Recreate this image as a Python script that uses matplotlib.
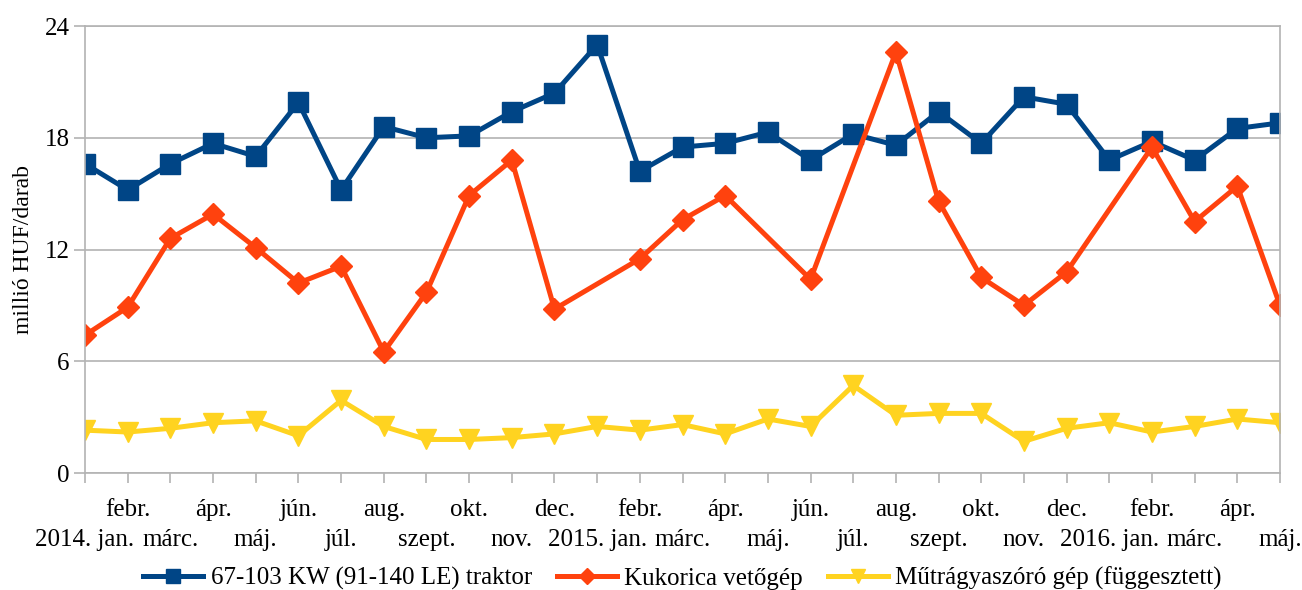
import numpy as np
import matplotlib
matplotlib.use('Agg')
import matplotlib.pyplot as plt
from matplotlib.ticker import FixedLocator, FixedFormatter

plt.rcParams['font.family'] = ['Liberation Serif', 'DejaVu Serif']

# months 2014. jan. .. 2016. máj.
months = ['2014. jan.', 'febr.', 'márc.', 'ápr.', 'máj.', 'jún.', 'júl.', 'aug.',
          'szept.', 'okt.', 'nov.', 'dec.',
          '2015. jan.', 'febr.', 'márc.', 'ápr.', 'máj.', 'jún.', 'júl.', 'aug.',
          'szept.', 'okt.', 'nov.', 'dec.',
          '2016. jan.', 'febr.', 'márc.', 'ápr.', 'máj.']

traktor = [16.6, 15.2, 16.6, 17.7, 17.0, 19.9, 15.2, 18.6, 18.0, 18.1, 19.4, 20.4,
           23.0, 16.2, 17.5, 17.7, 18.3, 16.8, 18.2, 17.6, 19.4, 17.7, 20.2, 19.8,
           16.8, 17.8, 16.8, 18.5, 18.8]

# None = no data for that month
vetogep = [7.4, 8.9, 12.6, 13.9, 12.1, 10.2, 11.1, 6.5, 9.7, 14.9, 16.8, 8.8,
           None, 11.5, 13.6, 14.9, None, 10.4, None, 22.6, 14.6, 10.5, 9.0, 10.8,
           None, 17.5, 13.5, 15.4, 9.0]

mutragya = [2.3, 2.2, 2.4, 2.7, 2.8, 2.0, 3.9, 2.5, 1.8, 1.8, 1.9, 2.1,
            2.5, 2.3, 2.6, 2.1, 2.9, 2.5, 4.7, 3.1, 3.2, 3.2, 1.7, 2.4,
            2.7, 2.2, 2.5, 2.9, 2.7]

labels = ['67-103 KW (91-140 LE) traktor', 'Kukorica vetőgép', 'Műtrágyaszóró gép (függesztett)']

x = np.arange(len(months))
v = np.array([np.nan if a is None else a for a in vetogep])
ok = ~np.isnan(v)

fig = plt.figure(figsize=(13.02, 5.90), dpi=100)
ax = fig.add_axes([0.0653, 0.1983, 0.9178, 0.7576])

ax.plot(x, traktor, color='#004586', lw=3.6, marker='s', ms=14, label=labels[0])
ax.plot(x[ok], v[ok], color='#ff420e', lw=3.6, marker='D', ms=11, label=labels[1])
ax.plot(x, mutragya, color='#ffd320', lw=3.6, marker='v', ms=14, label=labels[2])

ax.set_xlim(0, len(months) - 1)
ax.set_ylim(0, 24)
ax.set_yticks([0, 6, 12, 18, 24])
ax.yaxis.grid(True, color='#b3b3b3', lw=1.2)
ax.set_axisbelow(True)
for s in ax.spines.values():
    s.set_color('#b3b3b3')
    s.set_linewidth(1.2)
ax.tick_params(axis='y', length=8, width=1.2, color='#b3b3b3', labelsize=18, pad=3)
ax.set_ylabel('millió HUF/darab', fontsize=17, labelpad=8)

# two rows of month labels: even months lower, odd months upper
ax.xaxis.set_major_locator(FixedLocator(x[::2]))
ax.xaxis.set_major_formatter(FixedFormatter(months[::2]))
ax.xaxis.set_minor_locator(FixedLocator(x[1::2]))
ax.xaxis.set_minor_formatter(FixedFormatter(months[1::2]))
ax.tick_params(axis='x', which='both', length=7, width=1.2, color='#b3b3b3', labelsize=18)
ax.tick_params(axis='x', which='major', pad=33)
ax.tick_params(axis='x', which='minor', pad=12)

ax.legend(loc='upper center', bbox_to_anchor=(0.5, -0.187), ncol=3, frameon=False,
          fontsize=18, handlelength=2.4, handletextpad=0.3, columnspacing=1.0,
          borderaxespad=0.2, borderpad=0.2, markerscale=0.75)

fig.savefig('out.png', dpi=100)
